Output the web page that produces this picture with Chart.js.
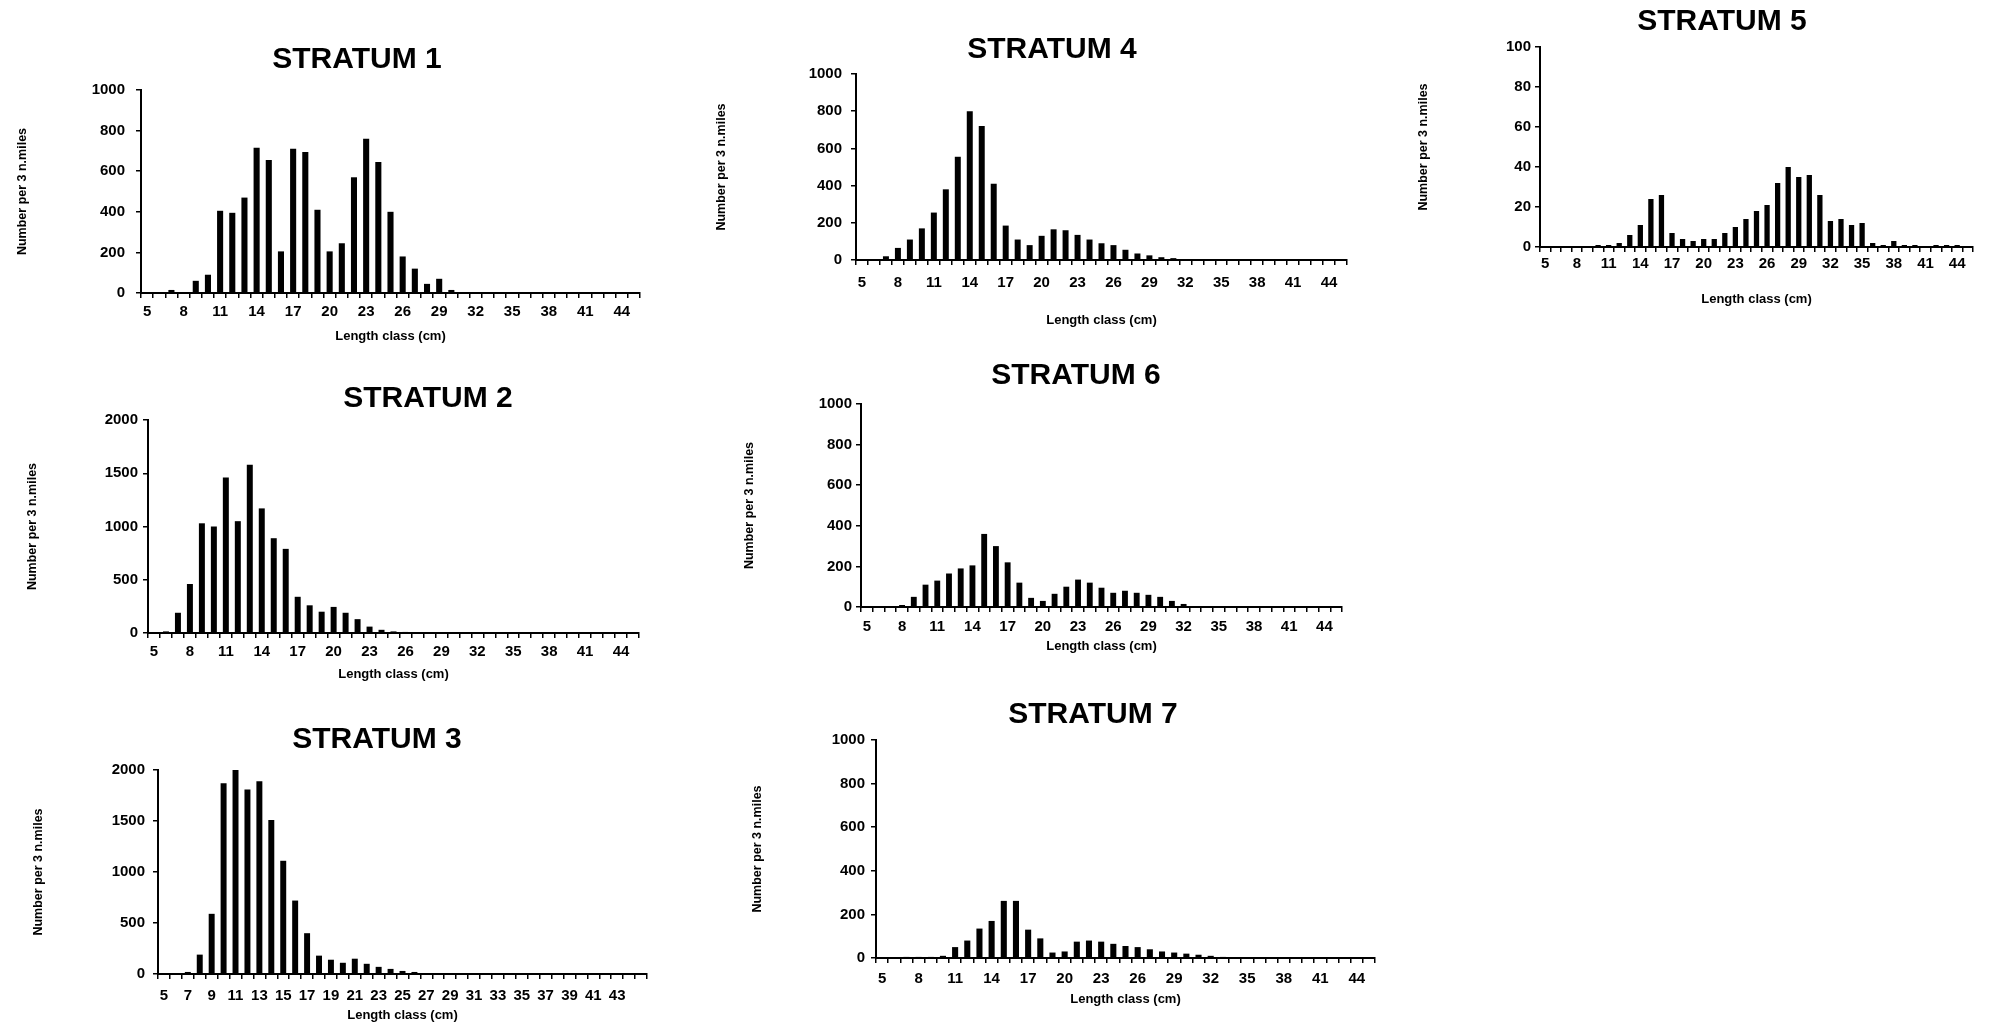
<!DOCTYPE html>
<html>
<head>
<meta charset="utf-8">
<title>Length distribution by stratum</title>
<script src="https://cdn.jsdelivr.net/npm/chart.js@4.4.1/dist/chart.umd.min.js"></script>
<style>
  html, body { margin: 0; padding: 0; background: #fff; }
  body { width: 1997px; height: 1028px; overflow: hidden; position: relative; }
  .panel { position: absolute; }
</style>
</head>
<body>
<script>
// length classes (cm), shared by all strata
const lengthClasses = [5, 6, 7, 8, 9, 10, 11, 12, 13, 14, 15, 16, 17, 18, 19, 20, 21, 22, 23, 24, 25,
                       26, 27, 28, 29, 30, 31, 32, 33, 34, 35, 36, 37, 38, 39, 40, 41, 42, 43, 44, 45];

// number per 3 n.miles for each length class
const stratum1 = [0, 0, 15, 5, 60, 90, 405, 395, 470, 715, 655, 205, 710, 695, 410, 205, 245, 570, 760, 645, 400,
                  180, 120, 45, 70, 15, 5, 0, 0, 0, 0, 0, 0, 0, 0, 0, 0, 0, 0, 0, 0];
const stratum2 = [0, 15, 190, 460, 1030, 1000, 1460, 1050, 1580, 1170, 890, 790, 340, 260, 200, 245, 190, 130, 60, 30, 15,
                  10, 0, 0, 0, 0, 0, 0, 0, 0, 0, 0, 0, 0, 0, 0, 0, 0, 0, 0, 0];
const stratum3 = [0, 10, 20, 190, 590, 1870, 2030, 1810, 1890, 1510, 1110, 720, 400, 180, 140, 110, 150, 100, 70, 50, 30,
                  20, 10, 0, 0, 0, 0, 0, 0, 0, 0, 0, 0, 0, 0, 0, 0, 0, 0, 0, 0];
const stratum4 = [0, 5, 20, 65, 110, 170, 255, 380, 555, 800, 720, 410, 185, 110, 80, 130, 165, 160, 135, 110, 90,
                  80, 55, 35, 25, 15, 10, 5, 0, 0, 0, 0, 0, 0, 0, 0, 0, 0, 0, 0, 0];
const stratum5 = [0, 0, 0, 0, 0, 1, 1, 2, 6, 11, 24, 26, 7, 4, 3, 4, 4, 7, 10, 14, 18,
                  21, 32, 40, 35, 36, 26, 13, 14, 11, 12, 2, 1, 3, 1, 1, 0, 1, 1, 1, 0];
const stratum6 = [0, 0, 5, 10, 50, 110, 130, 165, 190, 205, 360, 300, 220, 120, 45, 30, 65, 100, 135, 120, 95,
                  70, 80, 70, 60, 50, 30, 15, 5, 0, 0, 0, 0, 0, 0, 0, 0, 0, 0, 0, 0];
const stratum7 = [0, 0, 5, 5, 5, 10, 50, 80, 135, 170, 262, 262, 130, 90, 25, 30, 75, 80, 75, 65, 55,
                  50, 40, 30, 25, 20, 15, 10, 5, 0, 0, 0, 0, 0, 0, 0, 0, 0, 0, 0, 0];

// axis ranges and label spacing, stratum 1..7
const yAxisMax = [1000, 2000, 2000, 1000, 100, 1000, 1000];
const yAxisStep = [200, 500, 500, 200, 20, 200, 200];
const xLabelStep = [3, 3, 2, 3, 3, 3, 3];
const lastLabel = 44;

const titles = ['STRATUM 1', 'STRATUM 2', 'STRATUM 3', 'STRATUM 4', 'STRATUM 5', 'STRATUM 6', 'STRATUM 7'];
const series = [stratum1, stratum2, stratum3, stratum4, stratum5, stratum6, stratum7];

// page placement of each panel (px): title centre, axis titles, plot box, label gaps
const panels = [
    { titleX: 357, titleY: 60, yTitleX: 22, xTitleY: 336, left: 141, right: 640, top: 90, bottom: 293, yPad: 11, xPad: 5 },
    { titleX: 428, titleY: 399, yTitleX: 32, xTitleY: 674, left: 148, right: 639, top: 420, bottom: 633, yPad: 5, xPad: 5 },
    { titleX: 377, titleY: 740, yTitleX: 38, xTitleY: 1015, left: 158, right: 647, top: 770, bottom: 974, yPad: 8, xPad: 8 },
    { titleX: 1052, titleY: 50, yTitleX: 721, xTitleY: 320, left: 856, right: 1347, top: 74, bottom: 260, yPad: 9, xPad: 9 },
    { titleX: 1722, titleY: 22, yTitleX: 1423, xTitleY: 299, left: 1540, right: 1973, top: 47, bottom: 247, yPad: 4, xPad: 3 },
    { titleX: 1076, titleY: 376, yTitleX: 749, xTitleY: 646, left: 861, right: 1342, top: 404, bottom: 607, yPad: 4, xPad: 6 },
    { titleX: 1093, titleY: 715, yTitleX: 757, xTitleY: 999, left: 876, right: 1375, top: 740, bottom: 958, yPad: 6, xPad: 7 }
];

const TITLE_SIZE = 30, TICK_SIZE = 15, XTITLE_SIZE = 13, YTITLE_SIZE = 12.5;

Chart.defaults.font.family = '"Liberation Sans", Arial, Helvetica, sans-serif';
Chart.defaults.font.weight = 'bold';
Chart.defaults.color = '#000';

panels.forEach((p, i) => {
    const divLeft = Math.round(p.yTitleX - YTITLE_SIZE * 1.2 / 2);
    const divTop = Math.round(p.titleY - TITLE_SIZE * 1.2 / 2);
    const width = Math.round(2 * (p.titleX - divLeft));
    const height = Math.round(p.xTitleY + XTITLE_SIZE * 1.2 / 2 - divTop);
    const yWidth = p.left - divLeft;
    const xHeight = divTop + height - p.bottom;
    const rightGap = divLeft + width - p.right;
    const titleGap = p.top - divTop - TITLE_SIZE * 1.2;

    const box = document.createElement('div');
    box.className = 'panel';
    box.style.left = divLeft + 'px';
    box.style.top = divTop + 'px';
    const canvas = document.createElement('canvas');
    canvas.width = width;
    canvas.height = height;
    box.appendChild(canvas);
    document.body.appendChild(box);

    const step = xLabelStep[i];

    new Chart(canvas, {
        type: 'bar',
        data: {
            labels: lengthClasses,
            datasets: [{
                data: series[i],
                backgroundColor: '#000',
                borderWidth: 0,
                barPercentage: 0.5,
                categoryPercentage: 1
            }]
        },
        options: {
            responsive: false,
            animation: false,
            layout: { padding: 0 },
            plugins: {
                legend: { display: false },
                tooltip: { enabled: false },
                title: {
                    display: true,
                    text: titles[i],
                    color: '#000',
                    font: { size: TITLE_SIZE, weight: 'bold' },
                    padding: { top: 0, bottom: titleGap }
                }
            },
            scales: {
                x: {
                    grid: { display: true, drawOnChartArea: false, drawTicks: true, tickLength: 5, color: '#000', lineWidth: 1.5 },
                    border: { display: true, color: '#000', width: 2 },
                    ticks: {
                        autoSkip: false,
                        maxRotation: 0,
                        minRotation: 0,
                        padding: p.xPad,
                        color: '#000',
                        font: { size: TICK_SIZE, weight: 'bold' },
                        callback: (value, index) => {
                            const c = lengthClasses[index];
                            return (index % step === 0 && c <= lastLabel) ? String(c) : '';
                        }
                    },
                    title: {
                        display: true,
                        text: 'Length class (cm)',
                        color: '#000',
                        font: { size: XTITLE_SIZE, weight: 'bold' },
                        padding: 0
                    },
                    afterFit: (scale) => { scale.height = xHeight; }
                },
                y: {
                    min: 0,
                    max: yAxisMax[i],
                    grid: { display: true, drawOnChartArea: false, drawTicks: true, tickLength: 5, color: '#000', lineWidth: 1.5 },
                    border: { display: true, color: '#000', width: 2 },
                    ticks: {
                        stepSize: yAxisStep[i],
                        padding: p.yPad,
                        color: '#000',
                        font: { size: TICK_SIZE, weight: 'bold' },
                        callback: (value) => String(value)
                    },
                    title: {
                        display: true,
                        text: 'Number per 3 n.miles',
                        color: '#000',
                        font: { size: YTITLE_SIZE, weight: 'bold' },
                        padding: 0
                    },
                    afterFit: (scale) => { scale.width = yWidth; }
                },
                // empty right-hand box so the title can sit off-centre like the original
                spacer: {
                    type: 'linear',
                    position: 'right',
                    display: true,
                    grid: { display: false },
                    border: { display: false },
                    ticks: { display: false },
                    afterFit: (scale) => { scale.width = rightGap; }
                }
            }
        }
    });
});
</script>
</body>
</html>
